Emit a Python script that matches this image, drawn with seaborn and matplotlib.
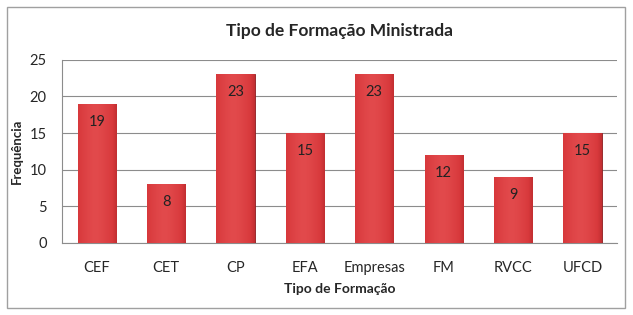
import numpy as np
import pandas as pd
import matplotlib
matplotlib.use("Agg")
import matplotlib.pyplot as plt
import seaborn as sns
from matplotlib.patches import Rectangle

# dados
categorias = ["CEF", "CET", "CP", "EFA", "Empresas", "FM", "RVCC", "UFCD"]
frequencias = [19, 8, 23, 15, 23, 12, 9, 15]
yticks = [0, 5, 10, 15, 20, 25]

df = pd.DataFrame({"Tipo": categorias, "Freq": frequencias})

sns.set_style("white")
plt.rcParams["font.family"] = ["Lato", "DejaVu Sans"]

fig = plt.figure(figsize=(6.33, 3.15), dpi=100)
ax = fig.add_axes([0.098, 0.229, 0.877, 0.581])

sns.barplot(data=df, x="Tipo", y="Freq", color="#cc2f33", width=0.55,
            edgecolor="#8e1a1d", linewidth=0.6, ax=ax, zorder=3)

# gradiente horizontal em cada barra
grad = np.linspace(0, 1, 64).reshape(1, -1)
prof = 1 - 0.55 * np.abs(grad - 0.45) ** 1.4 * 2
cmap = matplotlib.colors.LinearSegmentedColormap.from_list(
    "red", ["#9c1c20", "#d8393c", "#e24a4c"])
for p in ax.patches:
    x0, y0 = p.get_x(), p.get_y()
    w, h = p.get_width(), p.get_height()
    im = ax.imshow(prof, cmap=cmap, vmin=0.3, vmax=1, aspect="auto",
                   extent=(x0, x0 + w, y0, y0 + h), zorder=3.5)
    im.set_clip_path(p)

ax.bar_label(ax.containers[0], labels=[str(v) for v in frequencias],
             padding=-18, fontsize=10.5, color="#222222", zorder=5)

ax.set_ylim(0, 25)
ax.set_xlim(-0.5, len(categorias) - 0.5)
ax.set_yticks(yticks)
ax.yaxis.grid(True, color="#8c8c8c", linewidth=0.8, zorder=0)
ax.set_axisbelow(True)
for s in ["top", "right"]:
    ax.spines[s].set_visible(False)
ax.spines["left"].set_color("#8c8c8c")
ax.spines["bottom"].set_color("#8c8c8c")
ax.tick_params(axis="y", length=3, color="#8c8c8c", labelsize=10.5, pad=8)
ax.tick_params(axis="x", length=0, labelsize=10.5, pad=13)

ax.set_title("Tipo de Formação Ministrada", fontsize=12.5, fontweight="bold", pad=17)
ax.set_xlabel("Tipo de Formação", fontsize=10, fontweight="bold", labelpad=6)
ax.set_ylabel("Frequência", fontsize=9.5, fontweight="bold", labelpad=5)

# moldura exterior
fig.patches.append(Rectangle((0.011, 0.022), 0.977, 0.955, transform=fig.transFigure,
                             fill=False, edgecolor="#a0a0a0", linewidth=1))

fig.savefig("out.png", dpi=100)
